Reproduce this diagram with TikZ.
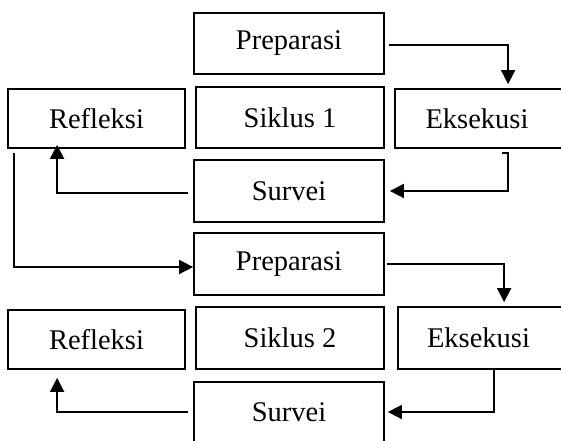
\documentclass[tikz,border=0pt]{standalone}
\usepackage{fontspec}
\setmainfont{Liberation Serif}
\usetikzlibrary{arrows.meta,calc}
\tikzset{
  box/.style={draw, line width=1.8pt, rectangle, inner sep=0pt, font=\fontsize{28.5}{31}\selectfont},
  arr/.style={line width=1.8pt, -{Triangle[length=14pt,width=14pt]}}
}
\begin{document}
\begin{tikzpicture}[x=1pt,y=-1pt]
\clip (0,0) rectangle (561,440);
% cycle 1
\node[box, minimum width=190pt, minimum height=61pt] (p1) at (289,43.5) {Preparasi};
\node[box, minimum width=177pt, minimum height=59pt] (r1) at (96.5,118.5) {Refleksi};
\node[box, minimum width=188pt, minimum height=61pt] (k1) at (290,117.5) {Siklus 1};
\node[box, minimum width=170pt, minimum height=59pt, text width=170pt, align=center] (e1) at (480,118.5) {\hspace*{-6pt}Eksekusi};
\node[box, minimum width=190pt, minimum height=62pt] (s1) at (289,191) {Survei};
% cycle 2
\node[box, minimum width=190pt, minimum height=62pt] (p2) at (289,264) {Preparasi};
\node[box, minimum width=177pt, minimum height=59pt] (r2) at (96.5,339.5) {Refleksi};
\node[box, minimum width=188pt, minimum height=62pt] (k2) at (290,338) {Siklus 2};
\node[box, minimum width=167pt, minimum height=62pt, text width=167pt, align=center] (e2) at (481.5,338) {\hspace*{-6pt}Eksekusi};
\node[box, minimum width=190pt, minimum height=60pt] (s2) at (289,412) {Survei};
% connectors cycle 1
\draw[arr] ([xshift=4pt,yshift=-1.5pt]p1.east) -| ($(e1.north west)+(114,-4)$);
\draw[arr] ($(e1.south west)+(108,4)$) -- ++(6,0) |- ([xshift=5pt]s1.east);
\draw[arr] ([xshift=-5pt,yshift=-2pt]s1.west) -| ($(r1.south west)+(50,-4)$);
\draw[arr] ($(r1.south west)+(7,4)$) |- ([yshift=-3pt]p2.west);
% connectors cycle 2
\draw[arr] ([xshift=2pt]p2.east) -| ($(e2.north west)+(107,-4)$);
\draw[arr] ($(e2.south west)+(97,0)$) |- ([xshift=3pt]s2.east);
\draw[arr] ([xshift=-5pt]s2.west) -| ($(r2.south west)+(50,8)$);
\end{tikzpicture}
\end{document}
